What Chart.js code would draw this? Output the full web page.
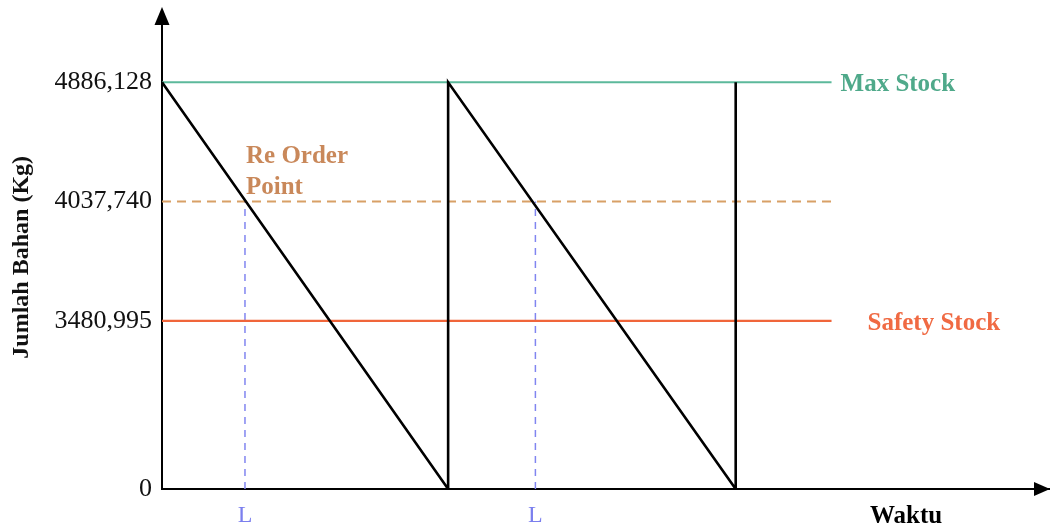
<!DOCTYPE html>
<html><head><meta charset="utf-8">
<script src="https://cdn.jsdelivr.net/npm/chart.js@4.4.1/dist/chart.umd.min.js"></script>
<style>html,body{margin:0;padding:0;background:#fff}canvas{display:block}</style>
</head><body>
<canvas id="c" width="1050" height="530"></canvas>
<script>
// ---- data ----
const maxStock = 4886.128;
const reorderPoint = 4037.740;
const safetyStock = 3480.995;
const stockTicks = [0, 3480.995, 4037.740, 4886.128];
const stockTickLabels = ['0', '3480,995', '4037,740', '4886,128'];
const cycleTimes = [0, 10, 10, 20.05, 20.05];
const cycleStock = [4886.128, 0, 4886.128, 0, 4886.128];
const leadTimeMarks = [2.9, 13.05];
const leadTimeLabels = ['L', 'L'];
const levelLineSpan = [0, 23.4];
const maxLabel = 'Max Stock';
const ropLabel = ['Re Order', 'Point'];
const safetyLabel = 'Safety Stock';
const yTitle = 'Jumlah Bahan (Kg)';
const xTitle = 'Waktu';

// schematic (non-linear) stock axis: value breakpoints and their share of the axis height
const axisBreakValues = [0, 3480.995, 4037.740, 4886.128, 5500];
const axisBreakFractions = [0, 0.3627, 0.6202, 0.8777, 1];

class PiecewiseScale extends Chart.LinearScale {
  _frac(v) {
    const b = axisBreakValues, f = axisBreakFractions;
    if (v <= b[0]) return f[0];
    for (let i = 1; i < b.length; i++) {
      if (v <= b[i]) return f[i-1] + (v - b[i-1]) / (b[i] - b[i-1]) * (f[i] - f[i-1]);
    }
    const n = b.length - 1;
    return f[n] + (v - b[n]) / (b[n] - b[n-1]) * (f[n] - f[n-1]);
  }
  getPixelForValue(v) {
    if (v === null || v === undefined || isNaN(v)) return NaN;
    return this.getPixelForDecimal(this._frac(v));
  }
  getValueForPixel(p) {
    const d = this.getDecimalForPixel(p);
    const b = axisBreakValues, f = axisBreakFractions;
    for (let i = 1; i < f.length; i++) {
      if (d <= f[i]) return b[i-1] + (d - f[i-1]) / (f[i] - f[i-1]) * (b[i] - b[i-1]);
    }
    return b[b.length-1];
  }
}
PiecewiseScale.id = 'piecewise';
PiecewiseScale.defaults = {};
Chart.register(PiecewiseScale);

const SERIF = "'Liberation Serif', 'Times New Roman', serif";
const colMax = '#5cb99b', colMaxText = '#4fa98a';
const colRop = '#d8a066', colRopText = '#c9885a';
const colSafe = '#f0653a', colSafeText = '#f06a43';
const colL = '#8185f0', colLText = '#7b7fee';

const pts = (xs, ys) => xs.map((x, i) => ({x, y: ys[i]}));
const hline = (v) => levelLineSpan.map(x => ({x, y: v}));

const datasets = [
  {label: 'Persediaan', data: pts(cycleTimes, cycleStock), borderColor: '#000', borderWidth: 2.6},
  {label: maxLabel, data: hline(maxStock), borderColor: colMax, borderWidth: 2},
  {label: ropLabel.join(' '), data: hline(reorderPoint), borderColor: colRop, borderWidth: 2, borderDash: [9, 6]},
  {label: safetyLabel, data: hline(safetyStock), borderColor: colSafe, borderWidth: 2.4},
];
leadTimeMarks.forEach((t) => {
  datasets.push({label: 'L', data: [{x: t, y: 0}, {x: t, y: reorderPoint}], borderColor: colL, borderWidth: 1.5, borderDash: [7, 6]});
});
datasets.forEach(d => { d.pointRadius = 0; d.tension = 0; d.fill = false; });

const decorations = {
  id: 'decorations',
  afterDraw(chart) {
    const {ctx, chartArea: a, scales: {x, y}} = chart;
    ctx.save();
    ctx.fillStyle = '#000';
    ctx.beginPath();
    ctx.moveTo(a.left, 7); ctx.lineTo(a.left - 7.5, 25); ctx.lineTo(a.left + 7.5, 25); ctx.closePath(); ctx.fill();
    ctx.beginPath();
    ctx.moveTo(a.right + 1, a.bottom); ctx.lineTo(a.right - 15, a.bottom - 7); ctx.lineTo(a.right - 15, a.bottom + 7); ctx.closePath(); ctx.fill();

    ctx.textAlign = 'left'; ctx.textBaseline = 'alphabetic';
    ctx.font = "bold 25px " + SERIF;
    const xe = x.getPixelForValue(levelLineSpan[1]);
    ctx.fillStyle = colMaxText;
    ctx.fillText(maxLabel, xe + 9, y.getPixelForValue(maxStock) + 9);
    ctx.fillStyle = colSafeText;
    ctx.fillText(safetyLabel, xe + 36, y.getPixelForValue(safetyStock) + 9);
    ctx.fillStyle = colRopText;
    const xl = x.getPixelForValue(leadTimeMarks[0]);
    const yr = y.getPixelForValue(reorderPoint);
    ctx.fillText(ropLabel[0], xl + 1, yr - 39);
    ctx.fillText(ropLabel[1], xl + 1, yr - 8);
    ctx.fillStyle = '#000';
    ctx.fillText(xTitle, 870, a.bottom + 34);
    ctx.restore();
  }
};

new Chart(document.getElementById('c'), {
  type: 'line',
  data: {datasets},
  options: {
    responsive: false,
    animation: false,
    events: [],
    layout: {padding: {top: 23, right: 1, left: 0, bottom: 0}},
    plugins: {legend: {display: false}, tooltip: {enabled: false}},
    scales: {
      x: {
        type: 'linear', min: 0, max: 31,
        grid: {display: false, drawTicks: false},
        border: {display: true, color: '#000', width: 2},
        afterBuildTicks: (s) => { s.ticks = leadTimeMarks.map(v => ({value: v})); },
        afterFit: (s) => { s.height = 41; },
        ticks: {autoSkip: false, maxRotation: 0, padding: 12, color: colLText,
          font: {family: SERIF, size: 24},
          callback: (v, i) => leadTimeLabels[i]}
      },
      y: {
        type: 'piecewise', min: 0, max: 5500,
        grid: {display: false, drawTicks: false},
        border: {display: true, color: '#000', width: 2},
        afterBuildTicks: (s) => { s.ticks = stockTicks.map(v => ({value: v})); },
        afterFit: (s) => { s.width = 162; },
        ticks: {autoSkip: false, padding: 10, color: '#111',
          font: {family: SERIF, size: 26},
          callback: (v, i) => stockTickLabels[i]},
        title: {display: true, text: yTitle, color: '#111',
          font: {family: SERIF, size: 24, weight: 'bold'}, padding: {top: 7, bottom: 0}}
      }
    }
  },
  plugins: [decorations]
});
</script>
</body></html>
